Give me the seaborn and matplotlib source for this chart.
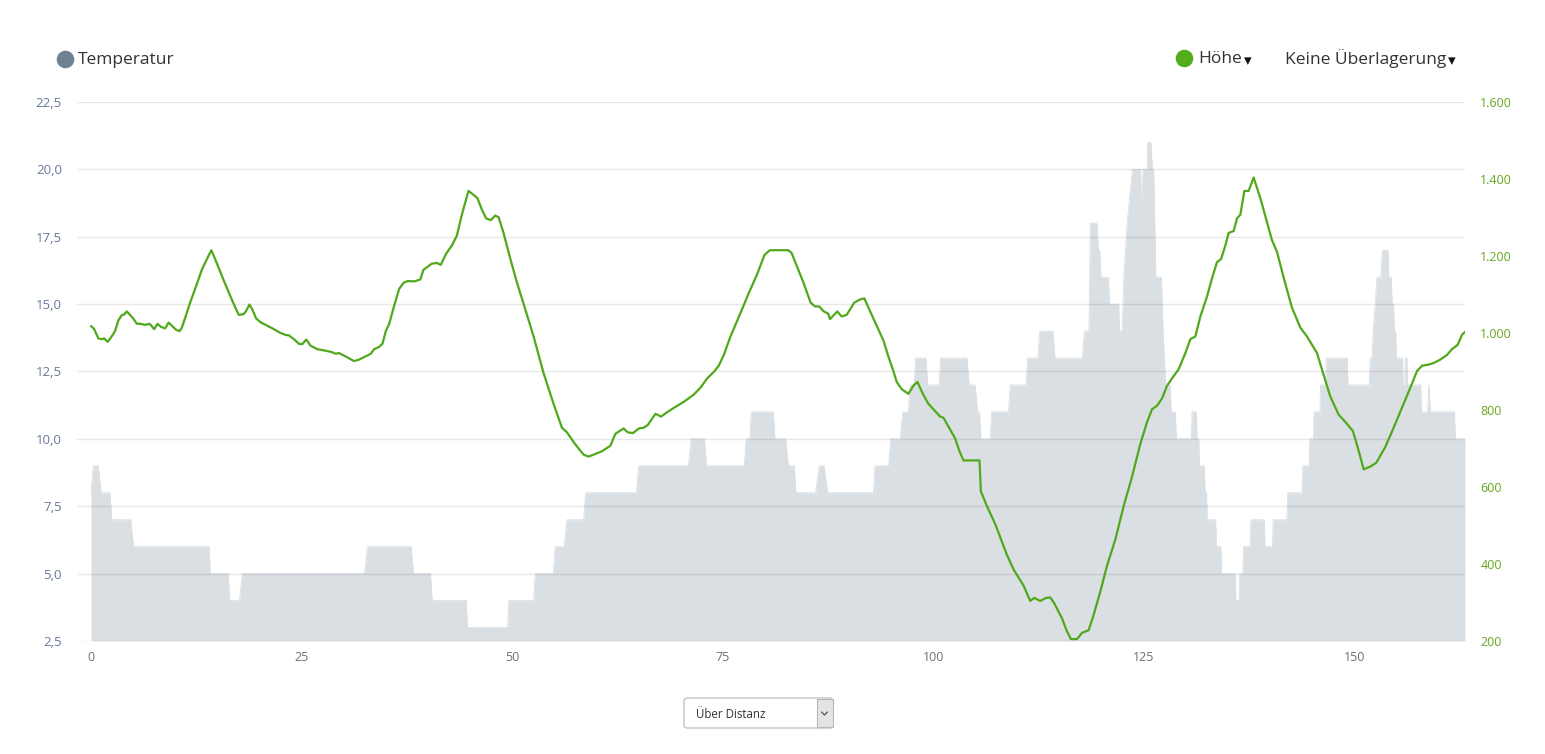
import numpy as np
import pandas as pd
import matplotlib
matplotlib.use("Agg")
import matplotlib.pyplot as plt
import seaborn as sns
from matplotlib.patches import FancyBboxPatch, Rectangle
from matplotlib.ticker import FixedLocator, FuncFormatter

# ---------------- data ----------------
temp_km = [0.0, 0.28, 0.87, 1.19, 2.26, 2.46, 4.72, 5.04, 14.0, 14.17, 16.27, 16.47, 17.62, 17.98,
           32.46, 32.82, 38.0, 38.29, 40.28, 40.5, 44.53, 44.69, 49.45, 49.6, 52.54, 52.73, 54.87,
           55.1, 56.18, 56.5, 58.48, 58.72, 64.74, 65.02, 70.92, 71.24, 72.82, 73.06, 77.54, 77.77,
           78.2, 78.37, 80.98, 81.18, 82.45, 82.77, 83.48, 83.68, 86.01, 86.45, 87.0, 87.45, 92.87,
           93.07, 94.69, 94.93, 96.04, 96.36, 97.03, 97.23, 97.7, 97.9, 99.09, 99.33, 100.67, 100.87,
           103.96, 104.24, 104.95, 105.23, 105.47, 105.63, 106.74, 106.89, 108.91, 109.11, 110.97,
           111.21, 112.4, 112.6, 114.18, 114.42, 117.67, 117.91, 118.46, 118.62, 119.41, 119.57,
           119.73, 119.89, 120.76, 120.92, 121.98, 122.1, 122.39, 122.6, 122.8, 123.0, 123.3, 123.63,
           124.58, 124.66, 124.78, 124.86, 125.36, 125.44, 125.81, 125.98, 126.15, 126.4, 127.06,
           127.25, 127.4, 127.6, 128.13, 128.2, 128.7, 128.85, 130.62, 130.7, 131.2, 131.29, 131.5,
           131.57, 132.15, 132.25, 132.42, 132.5, 133.5, 133.58, 134.12, 134.2, 135.82, 135.9, 136.3,
           136.36, 136.72, 136.8, 137.6, 137.68, 139.28, 139.35, 140.25, 140.33, 141.96, 142.05,
           143.75, 143.85, 144.6, 144.68, 145.1, 145.17, 145.88, 145.95, 146.55, 146.63, 149.12,
           149.2, 151.74, 151.84, 152.05, 152.2, 152.45, 152.65, 153.1, 153.3, 153.95, 154.05, 154.35,
           154.45, 154.62, 154.7, 154.87, 154.95, 155.68, 155.75, 155.95, 156.0, 156.2, 156.26,
           157.85, 157.92, 158.66, 158.8, 159.0, 161.85, 161.95, 163.1]
temp_c = [8, 9, 9, 8, 8, 7, 7, 6, 6, 5, 5, 4, 4, 5,
          5, 6, 6, 5, 5, 4, 4, 3, 3, 4, 4, 5, 5,
          6, 6, 7, 7, 8, 8, 9, 9, 10, 10, 9, 9, 10,
          10, 11, 11, 10, 10, 9, 9, 8, 8, 9, 9, 8, 8,
          9, 9, 10, 10, 11, 11, 12, 12, 13, 13, 12, 12, 13,
          13, 12, 12, 11, 11, 10, 10, 11, 11, 12, 12,
          13, 13, 14, 14, 13, 13, 14, 14, 18, 18, 17,
          17, 16, 16, 15, 15, 14, 14, 16, 17, 18, 19, 20,
          20, 19, 19, 20, 20, 21, 21, 20, 20, 16, 16,
          14, 13, 12, 12, 11, 11, 10, 10, 11, 11, 10, 10,
          9, 9, 8, 8, 7, 7, 6, 6, 5, 5, 4, 4,
          5, 5, 6, 6, 7, 7, 6, 6, 7, 7, 8,
          8, 9, 9, 10, 10, 11, 11, 12, 12, 13, 13,
          12, 12, 13, 13, 14, 15, 16, 16, 17, 17, 16, 16,
          15, 15, 14, 14, 13, 13, 12, 12, 13, 13, 12,
          12, 11, 11, 12, 11, 11, 10, 10]

elev_km = [0.0, 0.36, 0.87, 1.27, 1.55, 1.98, 2.46, 2.86, 3.25, 3.65, 3.93, 4.25, 4.64, 5.04, 5.44,
           5.83, 6.43, 6.9, 7.14, 7.5, 7.9, 8.29, 8.81, 9.21, 9.6, 10.12, 10.52, 10.79, 11.79, 12.58,
           13.17, 13.69, 14.29, 14.96, 15.75, 16.75, 17.54, 18.13, 18.41, 18.81, 19.13, 19.6, 20.12,
           20.91, 21.71, 22.5, 23.1, 23.49, 24.09, 24.68, 25.08, 25.56, 26.07, 26.87, 27.86, 28.65,
           29.05, 29.44, 30.24, 31.23, 31.83, 32.74, 33.21, 33.61, 34.2, 34.6, 35.0, 35.4, 35.99,
           36.59, 37.1, 37.58, 38.37, 39.09, 39.46, 40.45, 41.05, 41.52, 42.16, 42.83, 43.42, 44.02,
           44.81, 45.4, 45.88, 46.39, 46.9, 47.46, 47.98, 48.38, 48.97, 49.76, 50.55, 51.35, 52.54,
           53.72, 54.91, 55.9, 56.5, 57.29, 57.88, 58.48, 59.07, 59.67, 60.66, 61.65, 62.24, 62.72,
           63.23, 63.71, 64.34, 65.02, 65.61, 66.09, 67.0, 67.67, 68.58, 69.37, 70.36, 71.55, 72.35,
           73.14, 73.93, 74.52, 75.12, 75.91, 77.1, 78.09, 79.08, 79.95, 80.59, 82.77, 83.16, 83.76,
           84.55, 85.42, 85.94, 86.45, 86.93, 87.52, 87.72, 88.19, 88.59, 89.1, 89.7, 90.61, 91.28,
           91.8, 92.47, 93.26, 94.06, 94.65, 95.25, 95.64, 96.24, 97.03, 97.62, 98.1, 98.81, 99.41,
           100.2, 100.79, 101.19, 101.78, 102.58, 103.09, 103.57, 105.47, 105.63, 106.34, 107.33,
           108.72, 109.51, 110.7, 111.49, 111.97, 112.68, 113.39, 113.87, 114.34, 115.26, 115.85,
           116.32, 117.04, 117.63, 118.42, 119.02, 119.82, 120.61, 121.6, 122.59, 123.58, 124.56,
           125.36, 125.95, 126.54, 127.14, 127.73, 128.32, 129.11, 129.91, 130.5, 131.09, 131.69,
           132.48, 133.07, 133.66, 134.14, 134.65, 135.05, 135.64, 136.04, 136.43, 136.91, 137.42,
           138.01, 138.81, 139.6, 140.19, 140.78, 141.77, 142.56, 143.55, 144.34, 145.53, 146.32,
           147.11, 148.1, 149.09, 149.8, 150.36, 151.07, 151.86, 152.57, 153.64, 154.63, 155.62,
           156.61, 157.4, 157.99, 158.78, 159.38, 160.17, 160.96, 161.55, 162.22, 162.74, 163.1]
elev_m = [1018, 1011, 986, 984, 986, 977, 991, 1005, 1033, 1046, 1048, 1056, 1047, 1037, 1024,
          1024, 1021, 1024, 1020, 1010, 1024, 1016, 1012, 1027, 1019, 1008, 1005, 1014, 1080, 1128,
          1165, 1189, 1215, 1180, 1137, 1085, 1047, 1049, 1057, 1074, 1062, 1038, 1028,
          1019, 1010, 1000, 995, 994, 984, 972, 971, 983, 967, 958, 954, 950,
          946, 948, 939, 927, 931, 941, 946, 958, 964, 972, 1005, 1024, 1071,
          1115, 1130, 1135, 1134, 1139, 1164, 1180, 1182, 1177, 1206, 1227, 1252, 1307,
          1369, 1359, 1350, 1321, 1298, 1293, 1305, 1301, 1260, 1194, 1132, 1076, 991,
          896, 816, 754, 742, 717, 700, 684, 679, 684, 693, 707, 738, 745,
          752, 742, 740, 752, 754, 761, 790, 783, 797, 808, 821, 840, 858,
          882, 899, 915, 943, 991, 1052, 1104, 1153, 1203, 1215, 1215, 1208, 1175,
          1132, 1079, 1069, 1069, 1057, 1050, 1036, 1047, 1056, 1043, 1047, 1079, 1087,
          1090, 1057, 1019, 981, 939, 901, 873, 854, 842, 863, 873, 839, 816,
          797, 783, 780, 757, 726, 693, 669, 669, 589, 551, 504,
          424, 386, 344, 304, 312, 304, 312, 313, 298, 259, 225,
          205, 205, 221, 228, 268, 329, 396, 464, 551, 627, 712,
          769, 802, 811, 830, 863, 882, 906, 948, 984, 991, 1043,
          1095, 1142, 1184, 1192, 1227, 1260, 1265, 1298, 1307, 1369, 1369,
          1404, 1350, 1288, 1241, 1211, 1128, 1066, 1014, 991, 948, 891,
          835, 788, 764, 745, 703, 646, 653, 663, 704, 754, 806,
          858, 901, 915, 918, 922, 931, 943, 958, 969, 995, 1003]

x_ticks = [0, 25, 50, 75, 100, 125, 150]
temp_ticks = [2.5, 5.0, 7.5, 10.0, 12.5, 15.0, 17.5, 20.0, 22.5]
elev_ticks = [200, 400, 600, 800, 1000, 1200, 1400, 1600]

legend_left = "Temperatur"
legend_right = ["Höhe", "Keine Überlagerung"]
dropdown_label = "Über Distanz"

# ---------------- style ----------------
sns.set_theme(style="white")
plt.rcParams['font.family'] = ['Open Sans', 'DejaVu Sans']

W, H = 1545, 754
fig = plt.figure(figsize=(W / 100, H / 100), dpi=100)
fig.patch.set_facecolor("white")

ax_l, ax_r, ax_t, ax_b = 77, 1465, 102, 641
ax = fig.add_axes([ax_l / W, 1 - ax_b / H, (ax_r - ax_l) / W, (ax_b - ax_t) / H])

temp_df = pd.DataFrame({"km": temp_km, "temp": temp_c})
elev_df = pd.DataFrame({"km": elev_km, "elev": elev_m})

fill_col = "#dadfe4"
ax.fill_between(temp_df["km"], temp_df["temp"], 2.5, color=fill_col, lw=0, zorder=1)
sns.lineplot(data=temp_df, x="km", y="temp", ax=ax, color=fill_col, lw=0.6,
             sort=False, estimator=None, zorder=1)
for t in temp_ticks:
    ax.axhline(t, color="#000000", alpha=0.09, lw=1.0, zorder=2)

ax.set_xlim(-1.66, 163.1)
ax.set_ylim(2.5, 22.5)
ax.xaxis.set_major_locator(FixedLocator(x_ticks))
ax.yaxis.set_major_locator(FixedLocator(temp_ticks))
ax.yaxis.set_major_formatter(FuncFormatter(lambda v, p: f"{v:.1f}".replace(".", ",")))
ax.tick_params(axis="y", length=0, pad=10.8, labelsize=9.5, labelcolor="#68779a")
ax.tick_params(axis="x", length=0, pad=7, labelsize=9, labelcolor="#707070")
ax.set_xlabel("")
ax.set_ylabel("")
for s in ax.spines.values():
    s.set_visible(False)
ax.grid(False)

ax2 = ax.twinx()
green = "#4fa91a"
sns.lineplot(data=elev_df, x="km", y="elev", ax=ax2, color=green, lw=1.6,
             sort=False, estimator=None, zorder=3)
ax2.set_ylim(200, 1600)
ax2.set_xlim(-1.66, 163.1)
ax2.yaxis.set_major_locator(FixedLocator(elev_ticks))
ax2.yaxis.set_major_formatter(FuncFormatter(lambda v, p: f"{int(v):,}".replace(",", ".")))
ax2.tick_params(axis="y", length=0, pad=11, labelsize=9, labelcolor="#66a81c")
ax2.set_ylabel("")
ax2.set_xlabel("")
for s in ax2.spines.values():
    s.set_visible(False)
ax2.grid(False)

# ---------------- legend / header ----------------
hdr = fig.add_axes([0, 0, 1, 1], zorder=10)
hdr.set_xlim(0, W)
hdr.set_ylim(H, 0)
hdr.axis("off")
hdr.scatter([64.7], [59], s=160, color="#6e8294", linewidths=0)
hdr.text(78, 60, legend_left, fontsize=12.5, color="#333333", va="center", ha="left")
hdr.scatter([1184.2], [58], s=160, color="#52ad1c", linewidths=0)
hdr.text(1198, 59, legend_right[0], fontsize=12.5, color="#333333", va="center", ha="left")
hdr.text(1244, 61, "▾", fontsize=11, color="#111111", va="center", ha="left",
         family=["DejaVu Sans"])
hdr.text(1285, 59, legend_right[1], fontsize=12.5, color="#333333", va="center", ha="left")
hdr.text(1448, 61, "▾", fontsize=11, color="#111111", va="center", ha="left",
         family=["DejaVu Sans"])

# ---------------- dropdown ----------------
box = FancyBboxPatch((684, 698), 149, 30, boxstyle="round,pad=0,rounding_size=3",
                     facecolor="white", edgecolor="#c4c4c4", lw=1.0)
hdr.add_patch(box)
btn = Rectangle((817, 699), 15.5, 28, facecolor="#e4e4e4", edgecolor="#b8b8b8", lw=0.8)
hdr.add_patch(btn)
hdr.plot([821.5, 824.5, 827.5], [712, 715, 712], color="#555555", lw=0.9)
hdr.text(696, 714, dropdown_label, fontsize=8.3, color="#333333", va="center", ha="left")

fig.savefig("out.png", dpi=100, facecolor="white")
